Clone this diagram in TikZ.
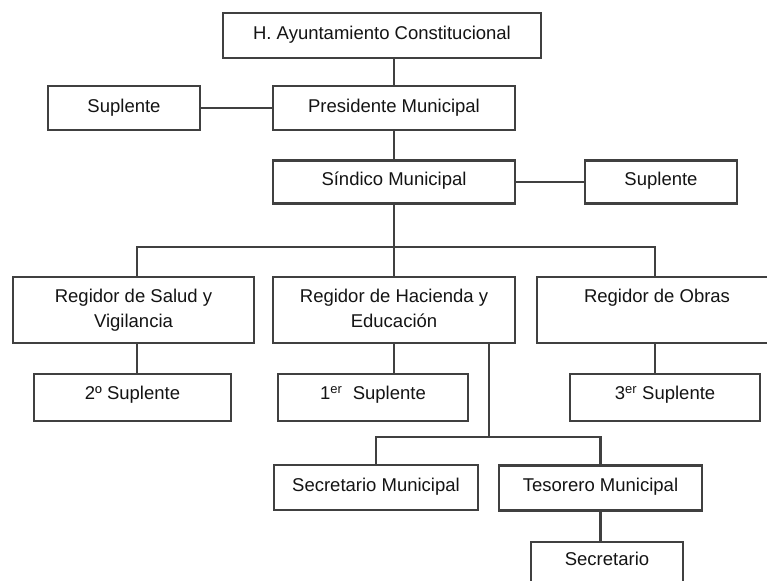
\documentclass[tikz,border=0pt]{standalone}
\usepackage{fontspec}
\setmainfont{Liberation Sans}
\definecolor{ln}{RGB}{64,64,64}
\definecolor{tx}{RGB}{20,20,20}
\newcommand\bt[4]{\parbox[c][#2][t]{#1}{\centering\rule{0pt}{#3}#4\par}}
\tikzset{
  box/.style={draw=ln, line width=2.2pt, inner sep=0pt, fill=white, text=tx,
    font=\fontsize{18.5}{25}\selectfont},
  wire/.style={draw=ln, line width=2.2pt}
}
\begin{document}
\begin{tikzpicture}[x=1pt,y=-1pt]
\useasboundingbox (0,0) rectangle (767,580);
\clip (0,0) rectangle (767,580);
\fill[white] (0,0) rectangle (767,580);

\node[box] (h)     at (382,35.5) {\bt{318pt}{45pt}{26.5pt}{H. Ayuntamiento Constitucional}};
\node[box] (supl)  at (124,108)  {\bt{152pt}{44pt}{26.5pt}{Suplente}};
\node[box] (pres)  at (394,108)  {\bt{242pt}{44pt}{26.5pt}{Presidente Municipal}};
\node[box] (sind)  at (394,182)  {\bt{242pt}{43pt}{25.5pt}{Síndico Municipal}};
\node[box] (supr)  at (661,182)  {\bt{152pt}{43pt}{25.5pt}{Suplente}};

\node[box] (salud) at (133.5,310) {\bt{241pt}{66pt}{25.5pt}{Regidor de Salud y\\Vigilancia}};
\node[box] (hac)   at (394,310)   {\bt{242pt}{66pt}{25.5pt}{Regidor de Hacienda y\\Educación}};
\node[box] (obras) at (657,310)   {\bt{240pt}{66pt}{25.5pt}{Regidor de Obras}};

\node[box] (s2)    at (132.5,397.5) {\bt{197pt}{47pt}{25.5pt}{2º Suplente}};
\node[box] (s1)    at (373,397.5)   {\bt{190pt}{47pt}{25.5pt}{1\textsuperscript{er}\ \ Suplente}};
\node[box] (s3)    at (665,397.5)   {\bt{190pt}{47pt}{25.5pt}{3\textsuperscript{er} Suplente}};

\node[box] (secm)  at (376,487.5)   {\bt{204pt}{45pt}{26.5pt}{Secretario Municipal}};
\node[box] (tes)   at (600.5,488)   {\bt{203pt}{45pt}{26pt}{Tesorero Municipal}};
\node[box] (sec)   at (607,571)     {\bt{152pt}{58pt}{23.5pt}{Secretario}};

\coordinate (bl) at (137,247);
\coordinate (br) at (655,247);
\coordinate (hb) at (489,437);

\draw[wire] (pres.north) -- (pres.north |- h.south);
\draw[wire] (supl.east) -- (pres.west);
\draw[wire] (pres.south) -- (sind.north);
\draw[wire] (sind.east) -- (supr.west);
\draw[wire] (sind.south) -- (hac.north);
\draw[wire] (salud.north -| bl) -- (bl) -- (br) -- (obras.north -| br);
\draw[wire] (salud.south -| bl) -- (s2.north -| bl);
\draw[wire] (hac.south) -- (hac.south |- s1.north);
\draw[wire] (obras.south -| br) -- (s3.north -| br);
\draw[wire] (hac.south -| hb) -- (hb);
\draw[wire] (secm.north) -- (secm.north |- hb) -- (tes.north |- hb) -- (tes.north);
\draw[wire] (tes.south) -- (tes.south |- sec.north);
\end{tikzpicture}
\end{document}
